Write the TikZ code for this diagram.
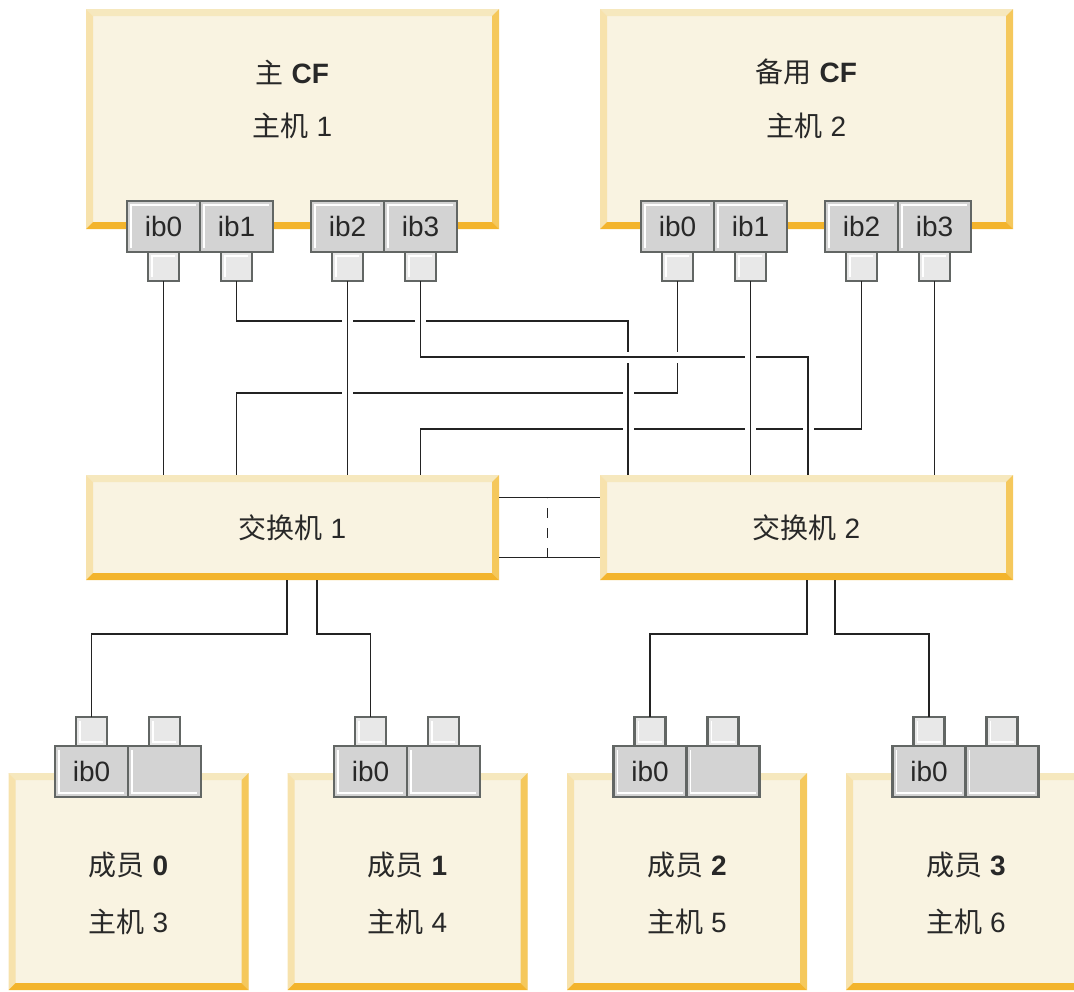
\documentclass[tikz,border=0pt]{standalone}
\usepackage{fontspec}
\setmainfont{Liberation Sans}
\newfontfamily\cjk{Noto Sans CJK SC}
\usetikzlibrary{positioning}

\definecolor{boxfill}{RGB}{249,243,225}
\definecolor{bevtop}{RGB}{246,232,190}
\definecolor{bevleft}{RGB}{247,226,172}
\definecolor{bevright}{RGB}{245,200,92}
\definecolor{bevbot}{RGB}{243,180,44}
\definecolor{portfill}{RGB}{211,211,211}
\definecolor{plugfill}{RGB}{232,232,232}
\definecolor{portline}{RGB}{98,102,100}
\definecolor{wirecol}{RGB}{35,35,35}
\definecolor{textcol}{RGB}{40,40,40}

\begin{document}
\begin{tikzpicture}[x=0.5pt,y=-0.5pt,
    font=\fontsize{14}{17}\selectfont,every node/.style={text=textcol},
    bevel/.style={fill=boxfill,inner sep=0pt,outer sep=0pt,
      path picture={
        \path (path picture bounding box.north west) coordinate (bnw)
          (path picture bounding box.north east) coordinate (bne)
          (path picture bounding box.south west) coordinate (bsw)
          (path picture bounding box.south east) coordinate (bse);
        \fill[bevtop] (bnw) -- (bne) -- ([xshift=-3.5pt,yshift=-3.5pt]bne)
          -- ([xshift=3.5pt,yshift=-3.5pt]bnw) -- cycle;
        \fill[bevleft] (bnw) -- ([xshift=3.5pt,yshift=-3.5pt]bnw)
          -- ([xshift=3.5pt,yshift=3.5pt]bsw) -- (bsw) -- cycle;
        \fill[bevright] (bne) -- (bse) -- ([xshift=-3.5pt,yshift=3.5pt]bse)
          -- ([xshift=-3.5pt,yshift=-3.5pt]bne) -- cycle;
        \fill[bevbot] (bsw) -- (bse) -- ([xshift=-3.5pt,yshift=3.5pt]bse)
          -- ([xshift=3.5pt,yshift=3.5pt]bsw) -- cycle;}},
    hostbox/.style={bevel,minimum width=206.5pt,minimum height=110pt},
    swbox/.style={bevel,minimum width=206.5pt,minimum height=52.5pt},
    memberbox/.style={bevel,minimum width=120pt,minimum height=108.5pt},
    port/.style={draw=portline,fill=portfill,line width=1.1pt,inner sep=0pt,
      outer sep=0pt,minimum width=36.5pt,minimum height=25.5pt},
    plug/.style={port,fill=plugfill,minimum width=15.5pt,minimum height=14.5pt},
    shineNW/.style={path picture={\draw[white,line width=.6pt]
      ([xshift=2pt,yshift=2pt]path picture bounding box.south west)
      -- ([xshift=2pt,yshift=-2pt]path picture bounding box.north west)
      -- ([xshift=-2pt,yshift=-2pt]path picture bounding box.north east);}},
    shineSW/.style={path picture={\draw[white,line width=.6pt]
      ([xshift=2pt,yshift=-2pt]path picture bounding box.north west)
      -- ([xshift=2pt,yshift=2pt]path picture bounding box.south west)
      -- ([xshift=-2pt,yshift=2pt]path picture bounding box.south east);}},
    wire/.style={draw=wirecol,line width=.85pt},
    over/.style={wire,preaction={draw=white,line width=5.5pt}}]
    \useasboundingbox (0,0) rectangle (1074,991);
    \clip (0,0) rectangle (1074,991);

    % The two CF hosts and their four adapters.
    \node[hostbox] (cf1) at (292.5,119) {};
    \node[hostbox] (cf2) at (806.5,119) {};
    \node (cf1name) at ([yshift=23.5pt]cf1.center) {{\cjk 主} \textbf{CF}};
    \node (cf1host) at ([yshift=-3.5pt]cf1.center) {{\cjk 主机} 1};
    \node (cf2name) at ([yshift=23.5pt]cf2.center) {{\cjk 备用} \textbf{CF}};
    \node (cf2host) at ([yshift=-3.5pt]cf2.center) {{\cjk 主机} 2};

    \node[port,shineNW] (cf1ib0) at ([xshift=-64.5pt,yshift=1.25pt]cf1.south) {ib0};
    \node[port,shineNW,right=0pt of cf1ib0] (cf1ib1) {ib1};
    \node[port,shineNW] (cf1ib2) at ([xshift=27.5pt,yshift=1.25pt]cf1.south) {ib2};
    \node[port,shineNW,right=0pt of cf1ib2] (cf1ib3) {ib3};
    \node[port,shineNW] (cf2ib0) at ([xshift=-64.5pt,yshift=1.25pt]cf2.south) {ib0};
    \node[port,shineNW,right=0pt of cf2ib0] (cf2ib1) {ib1};
    \node[port,shineNW] (cf2ib2) at ([xshift=27.5pt,yshift=1.25pt]cf2.south) {ib2};
    \node[port,shineNW,right=0pt of cf2ib2] (cf2ib3) {ib3};

    \node[plug,shineNW,below=0pt of cf1ib0] (cf1p0) {};
    \node[plug,shineNW,below=0pt of cf1ib1] (cf1p1) {};
    \node[plug,shineNW,below=0pt of cf1ib2] (cf1p2) {};
    \node[plug,shineNW,below=0pt of cf1ib3] (cf1p3) {};
    \node[plug,shineNW,below=0pt of cf2ib0] (cf2p0) {};
    \node[plug,shineNW,below=0pt of cf2ib1] (cf2p1) {};
    \node[plug,shineNW,below=0pt of cf2ib2] (cf2p2) {};
    \node[plug,shineNW,below=0pt of cf2ib3] (cf2p3) {};

    % The switches.
    \node[swbox] (sw1) at (292.5,527.5) {};
    \node[swbox] (sw2) at (806.5,527.5) {};
    \node (sw1name) at (sw1.center) {{\cjk 交换机} 1};
    \node (sw2name) at (sw2.center) {{\cjk 交换机} 2};

    % The members.
    \node[memberbox] (m0) at (128.5,881.5) {};
    \node[memberbox] (m1) at (407.5,881.5) {};
    \node[memberbox] (m2) at (687,881.5) {};
    \node[memberbox] (m3) at (966,881.5) {};
    \node (m0name) at ([yshift=8.25pt]m0.center) {{\cjk 成员} \textbf{0}};
    \node (m0host) at ([yshift=-20.25pt]m0.center) {{\cjk 主机} 3};
    \node (m1name) at ([yshift=8.25pt]m1.center) {{\cjk 成员} \textbf{1}};
    \node (m1host) at ([yshift=-20.25pt]m1.center) {{\cjk 主机} 4};
    \node (m2name) at ([yshift=8.25pt]m2.center) {{\cjk 成员} \textbf{2}};
    \node (m2host) at ([yshift=-20.25pt]m2.center) {{\cjk 主机} 5};
    \node (m3name) at ([yshift=8.25pt]m3.center) {{\cjk 成员} \textbf{3}};
    \node (m3host) at ([yshift=-20.25pt]m3.center) {{\cjk 主机} 6};

    \node[port,shineSW] (m0ib0) at ([xshift=-18.5pt,yshift=.75pt]m0.north) {ib0};
    \node[port,shineSW,right=0pt of m0ib0] (m0ib1) {};
    \node[port,shineSW] (m1ib0) at ([xshift=-18.5pt,yshift=.75pt]m1.north) {ib0};
    \node[port,shineSW,right=0pt of m1ib0] (m1ib1) {};
    \node[port,shineSW] (m2ib0) at ([xshift=-18.5pt,yshift=.75pt]m2.north) {ib0};
    \node[port,shineSW,right=0pt of m2ib0] (m2ib1) {};
    \node[port,shineSW] (m3ib0) at ([xshift=-18.5pt,yshift=.75pt]m3.north) {ib0};
    \node[port,shineSW,right=0pt of m3ib0] (m3ib1) {};

    \node[plug,shineSW,above=0pt of m0ib0] (m0p0) {};
    \node[plug,shineSW,above=0pt of m0ib1] (m0p1) {};
    \node[plug,shineSW,above=0pt of m1ib0] (m1p0) {};
    \node[plug,shineSW,above=0pt of m1ib1] (m1p1) {};
    \node[plug,shineSW,above=0pt of m2ib0] (m2p0) {};
    \node[plug,shineSW,above=0pt of m2ib1] (m2p1) {};
    \node[plug,shineSW,above=0pt of m3ib0] (m3p0) {};
    \node[plug,shineSW,above=0pt of m3ib1] (m3p1) {};

    % Cabling from the CF adapters to the switches.
    \coordinate (bend1) at (628,321);
    \coordinate (bend2) at (808,357);
    \coordinate (bend3) at (236.5,393);
    \coordinate (bend4) at (420.5,429);
    \draw[wire] (cf1p0.south) -- (cf1p0.south |- sw1.north);
    \draw[wire] (cf1p1.south) |- (bend1) -- (bend1 |- sw2.north);
    \draw[wire] (cf1p2.south) -- (cf1p2.south |- sw1.north);
    \draw[wire] (cf1p3.south) |- (bend2) -- (bend2 |- sw2.north);
    \draw[wire] (cf2p0.south) |- (bend3) -- (bend3 |- sw1.north);
    \draw[wire] (cf2p1.south) -- (cf2p1.south |- sw2.north);
    \draw[wire] (cf2p2.south) |- (bend4) -- (bend4 |- sw1.north);
    \draw[wire] (cf2p3.south) -- (cf2p3.south |- sw2.north);

    % Hops where one cable passes over another.
    \foreach \x/\y in {347.5/321,420.5/321,628/393,628/429,347.5/393,
        750.5/357,750.5/429,808/429}
      \draw[over] (\x,\y-6) -- (\x,\y+6);
    \foreach \x/\y in {628/357,677.5/357}
      \draw[over] (\x-6,\y) -- (\x+6,\y);

    % Inter-switch links.
    \draw[wire] ([yshift=15pt]sw1.east) -- coordinate[pos=.48] (linkA)
      ([yshift=15pt]sw2.west);
    \draw[wire] ([yshift=-15pt]sw1.east) -- coordinate[pos=.48] (linkB)
      ([yshift=-15pt]sw2.west);
    \draw[wire,dash pattern=on 5pt off 5pt] (linkB) -- (linkA);

    % Switches down to the members.
    \draw[wire] ([xshift=-2.75pt]sw1.south) -- ++(0,54) -| (m0p0.north);
    \draw[wire] ([xshift=12.25pt]sw1.south) -- ++(0,54) -| (m1p0.north);
    \draw[wire] ([xshift=.25pt]sw2.south) -- ++(0,54) -| (m2p0.north);
    \draw[wire] ([xshift=14.25pt]sw2.south) -- ++(0,54) -| (m3p0.north);
  \end{tikzpicture}
\end{document}
